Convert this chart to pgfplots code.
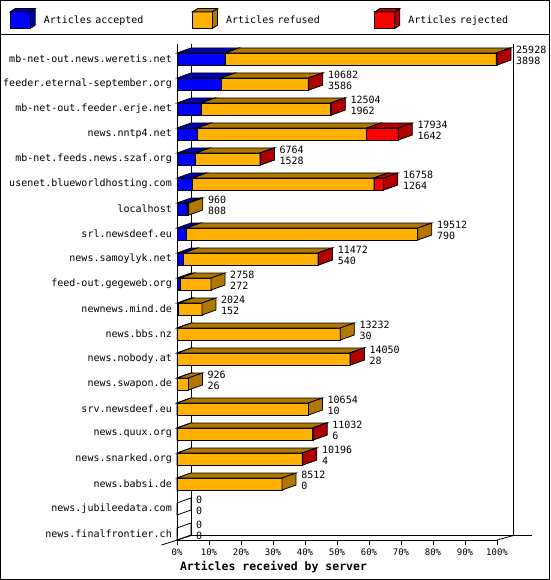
\documentclass[border=0pt]{standalone}
\usepackage{fontspec}
\setmainfont{DejaVu Sans Mono}
\usepackage{pgfplots}
\usepackage{pgfplotstable}
\pgfplotsset{compat=1.18}

\definecolor{accF}{HTML}{0000FF}
\definecolor{accD}{HTML}{0000B0}
\definecolor{refF}{HTML}{FFB000}
\definecolor{refD}{HTML}{B07800}
\definecolor{rejF}{HTML}{FF0000}
\definecolor{rejD}{HTML}{B00000}

\newcommand\tfont{\fontsize{10}{11}\selectfont}
\pgfdeclareplotmark{nothing}{}
\tikzset{seg/.style={draw=black, line width=0.8pt, line join=miter}}

% one 3d box per segment, drawn from the segment's right end (the mark position)
% width in pt = 320pt * meta/25928 = 0.32 * transformed meta
\newcommand\segbox[3]{%
  \pgfmathsetmacro\segw{0.32*\pgfplotspointmetatransformed}%
  \ifdim\segw pt>0.05pt
    \filldraw[seg, fill=#1] (-\segw pt,-6pt) rectangle (0pt,6pt);
    \filldraw[seg, fill=#2] (-\segw pt,6pt) -- (0pt,6pt) -- (14pt,11pt) -- (14pt-\segw pt,11pt) -- cycle;
    \filldraw[seg, fill=#2] (0pt,-6pt) -- (0pt,6pt) -- (14pt,11pt) -- (14pt,-1pt) -- cycle;
  \else\ifnum#3=1
    \draw[seg] (0pt,-6pt) -- (0pt,6pt) -- (14pt,11pt) -- (14pt,-1pt) -- cycle;
  \fi\fi}

\newcommand\legcube[2]{%
  \filldraw[seg, fill=#1] (0pt,-8.3pt) rectangle (20pt,8.3pt);
  \filldraw[seg, fill=#2] (0pt,8.3pt) -- (20pt,8.3pt) -- (25pt,11.7pt) -- (5pt,11.7pt) -- cycle;
  \filldraw[seg, fill=#2] (20pt,-8.3pt) -- (20pt,8.3pt) -- (25pt,11.7pt) -- (25pt,-4.9pt) -- cycle;}

% articles: total, accepted, rejected (refused = total - accepted - rejected)
\pgfplotstableread{
row name                          tot   acc  rej
0   mb-net-out.news.weretis.net   25928 3898 60
1   feeder.eternal-september.org  10682 3586 40
2   mb-net-out.feeder.erje.net    12504 1962 40
3   news.nntp4.net                17934 1642 2560
4   mb-net.feeds.news.szaf.org    6764  1528 40
5   usenet.blueworldhosting.com   16758 1264 800
6   localhost                     960   808  0
7   srl.newsdeef.eu               19512 790  0
8   news.samoylyk.net             11472 540  40
9   feed-out.gegeweb.org          2758  272  0
10  newnews.mind.de               2024  152  0
11  news.bbs.nz                   13232 30   0
12  news.nobody.at                14050 28   40
13  news.swapon.de                926   26   0
14  srv.newsdeef.eu               10654 10   0
15  news.quux.org                 11032 6    40
16  news.snarked.org              10196 4    40
17  news.babsi.de                 8512  0    0
18  news.jubileedata.com          0     0    0
19  news.finalfrontier.ch         0     0    0
}\servers

\begin{document}
\begin{tikzpicture}
\useasboundingbox (0pt,0pt) rectangle (550pt,-580pt);
% back wall and floor
\draw[line width=0.8pt] (191.5pt,-44pt) -- (191.5pt,-535.5pt) -- (532pt,-535.5pt);
\draw[line width=0.8pt] (513.5pt,-44pt) -- (513.5pt,-535.5pt);
\draw[line width=0.8pt] (161.5pt,-545pt) -- (191.5pt,-535.5pt);
\draw[line width=0.8pt] (497pt,-540pt) -- (513.5pt,-535.5pt);

\begin{axis}[
  at={(177pt,-540pt)}, anchor=south west,
  scale only axis, width=320pt, height=496pt,
  xmin=0, xmax=25928, ymin=-19.24, ymax=0.6,
  clip=false,
  point meta min=0, point meta max=25928,
  axis x line*=bottom, axis y line*=left,
  axis line style={-, line width=0.8pt},
  every outer x axis line/.append style={-},
  every outer y axis line/.append style={-},
  tick align=outside, major tick length=5pt,
  xtick style={black, line width=0.8pt},
  ytick style={draw=none},
  scaled x ticks=false,
  xtick={0,2592.8,5185.6,7778.4,10371.2,12964,15556.8,18149.6,20742.4,23335.2,25928},
  xticklabels={0\%,10\%,20\%,30\%,40\%,50\%,60\%,70\%,80\%,90\%,100\%},
  xticklabel style={font=\fontsize{9}{10}\selectfont, inner sep=0pt, yshift=-4pt},
  ytick={0,-1,...,-19},
  yticklabels from table={\servers}{name},
  yticklabel style={font=\tfont, inner sep=0pt},
  xlabel={Articles received by server},
  xlabel style={font=\bfseries\fontsize{11.5}{13}\selectfont,
    at={(axis description cs:0.3016,-0.0544)}, anchor=center, inner sep=0pt},
  legend columns=3,
  legend cell align=left,
  legend style={draw=none, fill=none, inner sep=0pt,
    at={(axis description cs:-0.523,1.0728)}, anchor=north west,
    nodes={inner sep=0pt, text width=140pt, font=\tfont},
    /tikz/every odd column/.append style={column sep=8.2pt},
    /tikz/every even column/.append style={column sep=8.3pt}},
]
\addlegendimage{legend image code/.code={\legcube{accF}{accD}}}
\addlegendentry{Articles accepted}
\addlegendimage{legend image code/.code={\legcube{refF}{refD}}}
\addlegendentry{Articles refused}
\addlegendimage{legend image code/.code={\legcube{rejF}{rejD}}}
\addlegendentry{Articles rejected}

\addplot[scatter, only marks, mark=nothing,
  point meta={\thisrow{acc}},
  scatter/@pre marker code/.code={\segbox{accF}{accD}{1}},
  scatter/@post marker code/.code={}]
  table[x=acc, y expr=-\thisrow{row}] {\servers};
\addplot[scatter, only marks, mark=nothing,
  point meta={\thisrow{tot}-\thisrow{acc}-\thisrow{rej}},
  scatter/@pre marker code/.code={\segbox{refF}{refD}{0}},
  scatter/@post marker code/.code={}]
  table[x expr=\thisrow{tot}-\thisrow{rej}, y expr=-\thisrow{row}] {\servers};
\addplot[scatter, only marks, mark=nothing,
  point meta={\thisrow{rej}},
  scatter/@pre marker code/.code={\segbox{rejF}{rejD}{0}},
  scatter/@post marker code/.code={}]
  table[x=tot, y expr=-\thisrow{row}] {\servers};
% total (upper line) and accepted (lower line) beside each bar
\addplot[only marks, mark=nothing, point meta=explicit symbolic,
  nodes near coords,
  every node near coord/.append style={anchor=west, inner sep=0pt,
    xshift=19pt, yshift=9pt, font=\tfont, black}]
  table[x=tot, y expr=-\thisrow{row}, meta=tot] {\servers};
\addplot[only marks, mark=nothing, point meta=explicit symbolic,
  nodes near coords,
  every node near coord/.append style={anchor=west, inner sep=0pt,
    xshift=19pt, yshift=-2pt, font=\tfont, black}]
  table[x=tot, y expr=-\thisrow{row}, meta=acc] {\servers};
\end{axis}

\draw[line width=1pt] (0.5pt,-0.5pt) rectangle (549.5pt,-579.5pt);
\draw[line width=1pt] (0pt,-35pt) -- (550pt,-35pt);
\end{tikzpicture}
\end{document}
